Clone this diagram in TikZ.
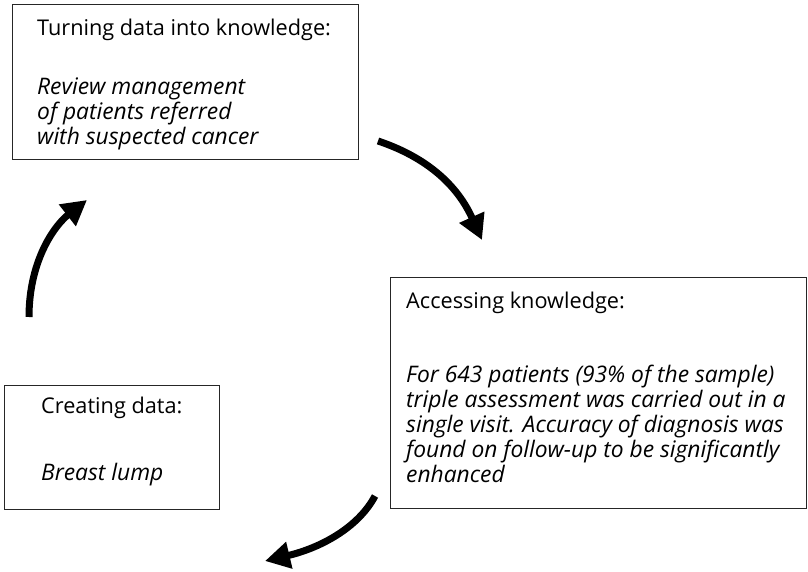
\documentclass[tikz,border=0pt]{standalone}
\usepackage{fontspec}
\setmainfont{Open Sans}
\usetikzlibrary{arrows.meta}
\begin{document}
\begin{tikzpicture}[
                x=1pt, y=-1pt,
                box/.style={draw=black!85, line width=1pt, anchor=north west, inner sep=0pt},
                heading/.style={anchor=base west, inner sep=0pt, font=\fontsize{21.7}{25}\selectfont},
                body/.style={heading, align=left, font=\fontsize{22.8}{25}\selectfont\itshape},
                flow/.style={line width=7pt, -{Triangle[length=25pt, width=26pt]}}
            ]
            \useasboundingbox (0,0) rectangle (808,572);
            \node[box, minimum width=346pt, minimum height=155pt] (review) at (12,4) {};
            \node[box, minimum width=416pt, minimum height=231pt] (access) at (390,277) {};
            \node[box, minimum width=215pt, minimum height=124pt] (create) at (4,385) {};
            \node[heading] (reviewtitle) at (37,36) {Turning data into knowledge:};
            \node[body] (reviewtext) at (37,145) {Review management\\of patients referred\\with suspected cancer};
            \node[heading] (accesstitle) at (406,308) {Accessing knowledge:};
            \node[body] (accesstext) at (406,482) {For 643 patients (93\% of the sample)\\triple assessment was carried out in a\\single visit. Accuracy of diagnosis was\\found on follow-up to be significantly\\enhanced};
            \node[heading] (createtitle) at (41,413) {Creating data:};
            \node[body] (createtext) at (41,480) {Breast lump};
            \coordinate (up0) at (29,317);
            \coordinate (up1) at (87,200);
            \coordinate (right0) at (378,141);
            \coordinate (right1) at (482,240);
            \coordinate (down0) at (375,496);
            \coordinate (down1) at (265,561);
            \draw[flow] (up0) .. controls (29,260) and (55,225) .. (up1);
            \draw[flow] (right0) .. controls (420,155) and (455,180) .. (right1);
            \draw[flow] (down0) .. controls (358,528) and (320,548) .. (down1);
        \end{tikzpicture}
\end{document}
